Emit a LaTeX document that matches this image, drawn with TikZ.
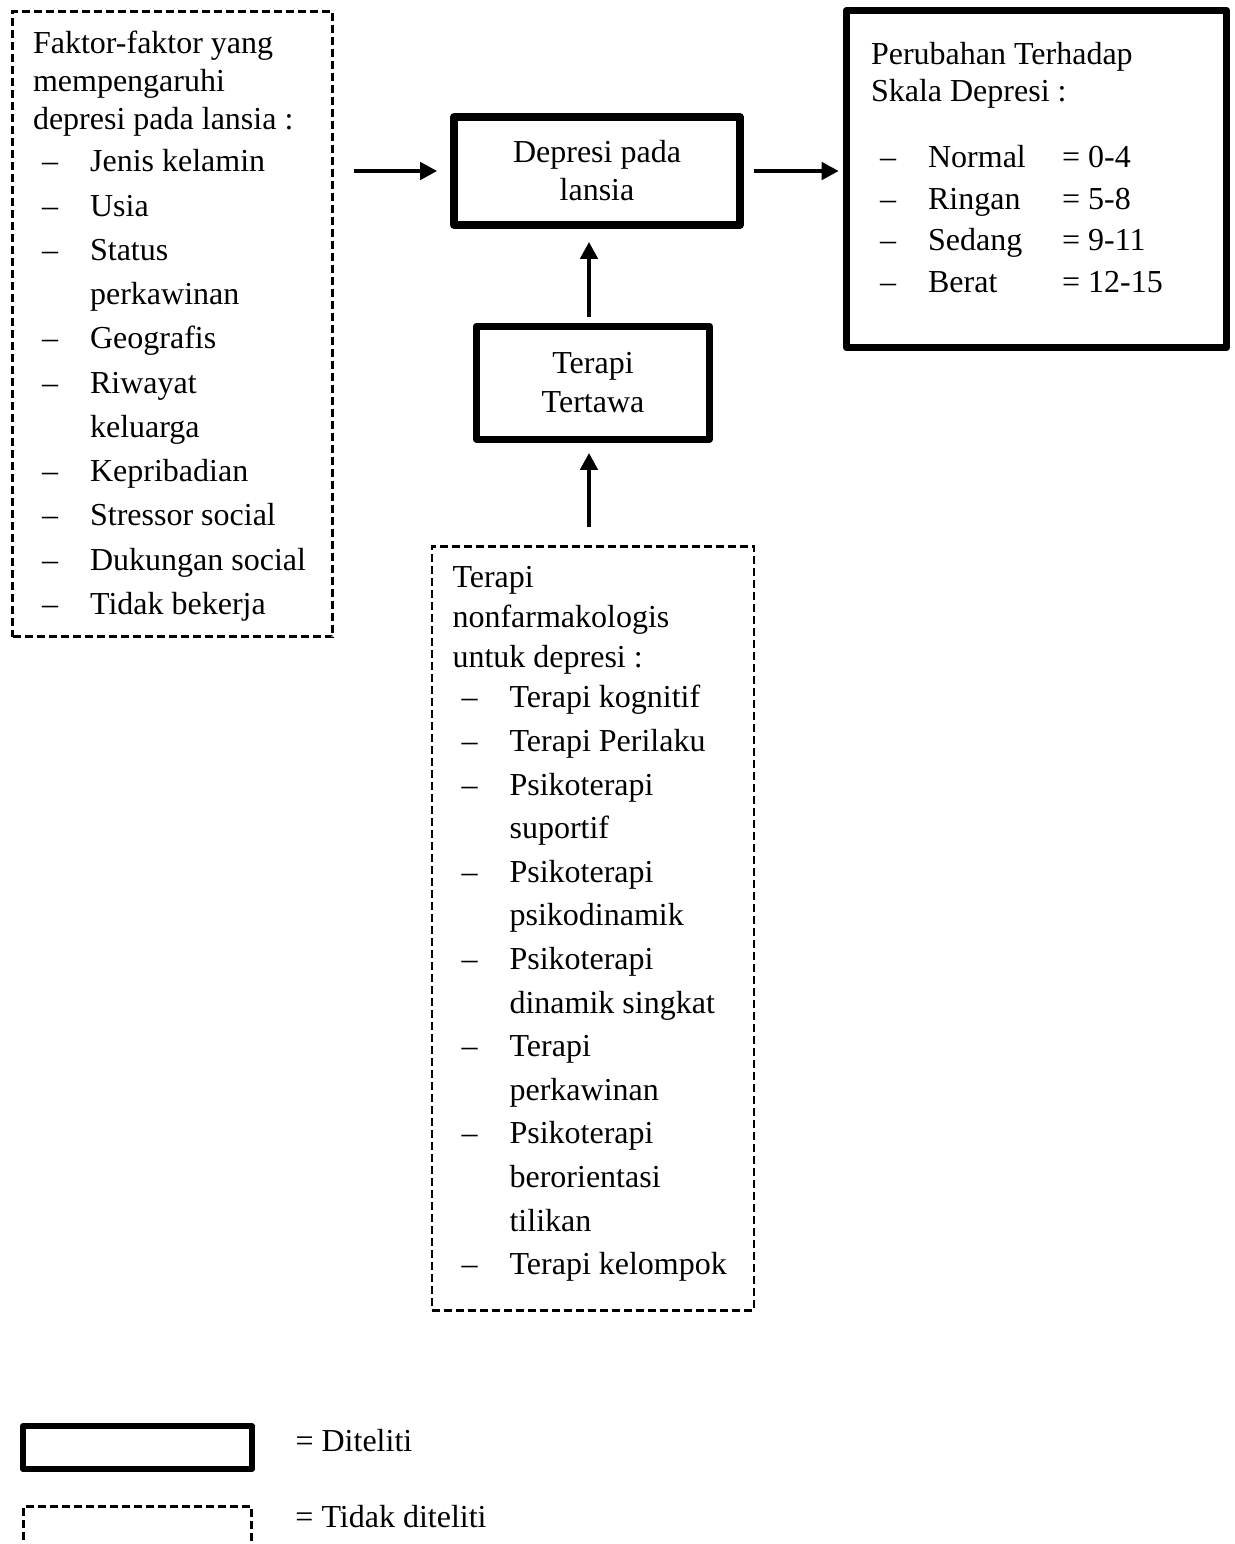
\documentclass[tikz,border=0pt]{standalone}
\usepackage{fontspec}
\setmainfont{Liberation Serif}
\usetikzlibrary{arrows.meta, positioning}

\newcommand{\itm}[1]{\hspace*{3.4pt}\makebox[18pt][l]{--}#1}
\newcommand{\cont}[1]{\hspace*{21.4pt}#1}
\newcommand{\skl}[2]{\hspace*{3.4pt}\makebox[18pt][l]{--}\makebox[50.25pt][l]{#1}#2}

\begin{document}
\begin{tikzpicture}[
				x=0.375pt, y=-0.375pt,
				dashbox/.style={draw, line width=1.1pt, dash pattern=on 3pt off 1.5pt,
					align=flush left, inner xsep=7.7pt, inner ysep=0pt},
				thickbox/.style={draw, line width=2.8pt, line join=round, align=center},
				arrow/.style={-{Triangle[length=6.4pt, width=6.4pt]}, line width=1.7pt},
				legtext/.style={font=\fontsize{12}{14.4}\selectfont}
				]
				\useasboundingbox (0,0) rectangle (1235,1544);

				\node[thickbox, minimum width=107.25pt, minimum height=40.5pt,
					font=\fontsize{12}{14.25}\selectfont] (depresi) at (597,171) {Depresi pada\\lansia};
				\node[thickbox, line width=2.6pt, minimum width=87.4pt, minimum height=42.4pt,
					font=\fontsize{12}{14.6}\selectfont, below=35.25pt of depresi, xshift=-1.5pt] (tertawa) {Terapi\\Tertawa};

				\node[dashbox, text width=104.6pt, minimum height=234.4pt,
					font=\fontsize{12}{14.4}\selectfont] (faktor) at (172.5,324)
					{\rule{0pt}{9.9pt}Faktor-faktor yang\\mempengaruhi\\depresi pada lansia :\\[1.35pt]
					\itm{Jenis kelamin}\\[2.2pt]\itm{Usia}\\[2.2pt]\itm{Status}\\[2.2pt]\cont{perkawinan}\\[2.2pt]
					\itm{Geografis}\\[2.2pt]\itm{Riwayat}\\[2.2pt]\cont{keluarga}\\[2.2pt]\itm{Kepribadian}\\[2.2pt]
					\itm{Stressor social}\\[2.2pt]\itm{Dukungan social}\\[2.2pt]\itm{Tidak bekerja}};

				\node[thickbox, align=flush left, text width=124.1pt, inner xsep=9.2pt, minimum height=126.4pt,
					font=\fontsize{12}{13.9}\selectfont] (skala) at (1036.5,179)
					{Perubahan Terhadap\\Skala Depresi :\\[10.85pt]
					\skl{Normal}{= 0-4}\\[1.7pt]\skl{Ringan}{= 5-8}\\[1.7pt]\skl{Sedang}{= 9-11}\\[1.7pt]
					\skl{Berat}{= 12-15\rule[-8.6pt]{0pt}{0pt}}};

				\node[dashbox, text width=105.35pt, minimum height=286.5pt,
					font=\fontsize{12}{15}\selectfont, below=38.25pt of tertawa] (nonfarm)
					{Terapi\\nonfarmakologis\\untuk depresi :\\
					\itm{Terapi kognitif}\\[1.35pt]\itm{Terapi Perilaku}\\[1.35pt]\itm{Psikoterapi}\\[1.35pt]
					\cont{suportif}\\[1.35pt]\itm{Psikoterapi}\\[1.35pt]\cont{psikodinamik}\\[1.35pt]
					\itm{Psikoterapi}\\[1.35pt]\cont{dinamik singkat}\\[1.35pt]\itm{Terapi}\\[1.35pt]
					\cont{perkawinan}\\[1.35pt]\itm{Psikoterapi}\\[1.35pt]\cont{berorientasi}\\[1.35pt]
					\cont{tilikan}\\[1.35pt]\itm{Terapi kelompok\rule[-5.6pt]{0pt}{0pt}}};

				% legend
				\node[thickbox, line width=2.2pt, minimum width=85.9pt, minimum height=16.1pt] (legdit) at (137.5,1447.5) {};
				\node[dashbox, minimum width=85.5pt, minimum height=17.3pt, below=12.4pt of legdit] (legtdk) {};
				\node[legtext, right=11.7pt of legdit, anchor=base west, yshift=-1.5pt] (txtdit) {= Diteliti};
				\node[legtext, right=12.4pt of legtdk, anchor=base west, yshift=0.6pt] (txttdk) {= Tidak diteliti};

				\draw[arrow, shorten <=7.5pt, shorten >=4.9pt] (faktor.east |- depresi.west) -- (depresi.west);
				\draw[arrow, shorten <=3.75pt, shorten >=1.5pt] (depresi.east) -- (depresi.east -| skala.west);
				\draw[arrow, shorten <=2.25pt, shorten >=4.9pt] ([xshift=-1.5pt]tertawa.north) -- ([xshift=-1.5pt]tertawa.north |- depresi.south);
				\draw[arrow, shorten <=6.75pt, shorten >=3.8pt] ([xshift=-1.5pt]tertawa.north |- nonfarm.north) -- ([xshift=-1.5pt]tertawa.south);
			\end{tikzpicture}
\end{document}
